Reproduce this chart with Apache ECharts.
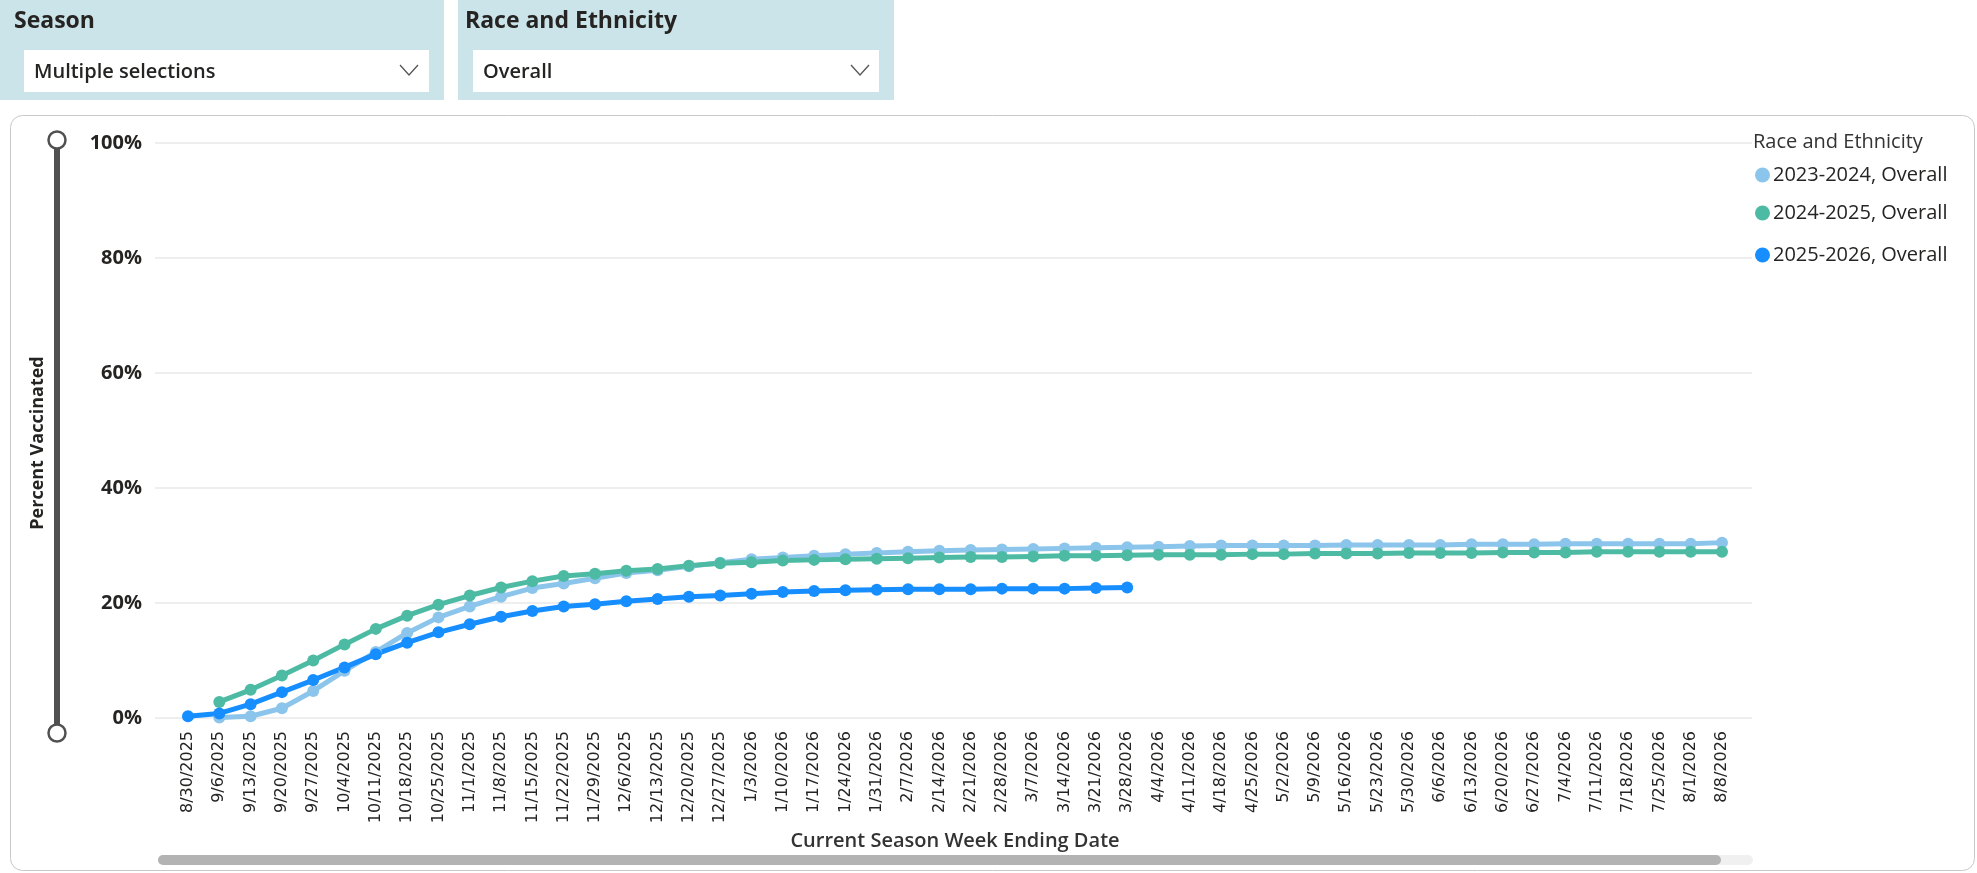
<!DOCTYPE html>
<html>
<head>
<meta charset="utf-8">
<script src="https://cdn.jsdelivr.net/npm/echarts@6/dist/echarts.min.js"></script>
<style>
html,body{margin:0;padding:0;background:#fff;}
#chart{width:1977px;height:873px;}
</style>
</head>
<body>
<div id="chart"></div>
<script>
const categories = ["8/30/2025","9/6/2025","9/13/2025","9/20/2025","9/27/2025","10/4/2025","10/11/2025","10/18/2025","10/25/2025","11/1/2025","11/8/2025","11/15/2025","11/22/2025","11/29/2025","12/6/2025","12/13/2025","12/20/2025","12/27/2025","1/3/2026","1/10/2026","1/17/2026","1/24/2026","1/31/2026","2/7/2026","2/14/2026","2/21/2026","2/28/2026","3/7/2026","3/14/2026","3/21/2026","3/28/2026","4/4/2026","4/11/2026","4/18/2026","4/25/2026","5/2/2026","5/9/2026","5/16/2026","5/23/2026","5/30/2026","6/6/2026","6/13/2026","6/20/2026","6/27/2026","7/4/2026","7/11/2026","7/18/2026","7/25/2026","8/1/2026","8/8/2026"];

const season2023 = [null,0.1,0.3,1.7,4.7,8.2,11.5,14.8,17.5,19.4,21.1,22.6,23.4,24.3,25.2,25.7,26.4,27.0,27.6,27.9,28.2,28.5,28.7,28.9,29.1,29.2,29.3,29.4,29.5,29.6,29.7,29.8,29.9,30.0,30.0,30.0,30.0,30.1,30.1,30.1,30.1,30.2,30.2,30.2,30.3,30.3,30.3,30.3,30.3,30.5];

const season2024 = [null,2.8,4.9,7.4,10.0,12.8,15.5,17.8,19.7,21.3,22.7,23.8,24.7,25.1,25.6,25.9,26.5,26.9,27.1,27.4,27.5,27.6,27.7,27.8,27.9,28.0,28.0,28.1,28.2,28.2,28.3,28.4,28.4,28.4,28.5,28.5,28.6,28.6,28.6,28.7,28.7,28.7,28.8,28.8,28.8,28.9,28.9,28.9,28.9,28.9];

const season2025 = [0.3,0.8,2.4,4.5,6.6,8.8,11.1,13.1,14.9,16.3,17.6,18.6,19.4,19.8,20.3,20.7,21.1,21.3,21.6,21.9,22.1,22.2,22.3,22.4,22.4,22.4,22.5,22.5,22.5,22.6,22.7,null,null,null,null,null,null,null,null,null,null,null,null,null,null,null,null,null,null,null];

const seriesNames = ["2023-2024, Overall","2024-2025, Overall","2025-2026, Overall"];
const seriesColors = ["#8CC5EB","#4DBAA3","#168EFF"];
const yTicks = [0,20,40,60,80,100];

const FONT = "'Open Sans', 'Noto Sans', sans-serif";
const chart = echarts.init(document.getElementById('chart'), null, {renderer:'canvas'});

function mkSeries(name, data, color){
  return {
    name: name, type: 'line', xAxisIndex: 1, yAxisIndex: 1,
    data: data, symbol: 'circle', symbolSize: 12, showSymbol: true,
    lineStyle: {width: 5, color: color}, itemStyle: {color: color},
    connectNulls: false
  };
}

const option = {
  animation: false,
  backgroundColor: '#ffffff',
  grid: [
    {left: 155, right: 225, top: 143, bottom: 155},
    {left: 188, right: 255, top: 143, bottom: 155}
  ],
  xAxis: [
    {gridIndex: 0, type: 'category', data: categories, show: false},
    {gridIndex: 1, type: 'category', data: categories, boundaryGap: false,
     axisLine: {show: false}, axisTick: {show: false},
     axisLabel: {interval: 0, rotate: 90, margin: 13, fontSize: 16, color: '#252423', fontFamily: "'DejaVu Sans', sans-serif"},
     name: 'Current Season Week Ending Date', nameLocation: 'middle', nameGap: 112,
     nameTextStyle: {fontSize: 20, fontWeight: 600, color: '#333333', fontFamily: FONT},
     splitLine: {show: false}}
  ],
  yAxis: [
    {gridIndex: 0, type: 'value', min: yTicks[0], max: yTicks[yTicks.length-1], interval: 20,
     axisLine: {show: false}, axisTick: {show: false},
     axisLabel: {formatter: '{value}%', fontSize: 20, fontWeight: 'bold', color: '#252423', margin: 13, fontFamily: FONT},
     splitLine: {show: true, lineStyle: {color: '#e8e8e8', width: 1.5}}},
    {gridIndex: 1, type: 'value', min: 0, max: 100, interval: 20, show: false, splitLine: {show: false}}
  ],
  legend: seriesNames.map((n, i) => ({
    data: [n], left: 1755, top: [164, 202, 244][i], orient: 'vertical', padding: 0,
    icon: 'circle', itemWidth: 15, itemHeight: 15, itemGap: 0,
    textStyle: {fontSize: 20, color: '#252423', fontFamily: FONT, lineHeight: 22, padding: [0, 0, 0, -2]}
  })),
  series: [
    mkSeries(seriesNames[0], season2023, seriesColors[0]),
    mkSeries(seriesNames[1], season2024, seriesColors[1]),
    mkSeries(seriesNames[2], season2025, seriesColors[2])
  ],
  graphic: [
    {type: 'rect', shape: {x: 0, y: 0, width: 444, height: 100}, style: {fill: '#cbe4e9'}, silent: true},
    {type: 'rect', shape: {x: 458, y: 0, width: 436, height: 100}, style: {fill: '#cbe4e9'}, silent: true},
    {type: 'rect', shape: {x: 24, y: 50, width: 405, height: 42}, style: {fill: '#ffffff'}, silent: true},
    {type: 'rect', shape: {x: 473, y: 50, width: 406, height: 42}, style: {fill: '#ffffff'}, silent: true},
    {type: 'text', x: 14, y: 21, style: {text: 'Season', fontSize: 23, fontWeight: 'bold', fill: '#252423', fontFamily: FONT, textVerticalAlign: 'middle'}},
    {type: 'text', x: 465, y: 21, style: {text: 'Race and Ethnicity', fontSize: 23, fontWeight: 'bold', fill: '#252423', fontFamily: FONT, textVerticalAlign: 'middle'}},
    {type: 'text', x: 34, y: 72, style: {text: 'Multiple selections', fontSize: 20, fontWeight: 600, fill: '#252423', fontFamily: FONT, textVerticalAlign: 'middle'}},
    {type: 'text', x: 483, y: 72, style: {text: 'Overall', fontSize: 20, fontWeight: 600, fill: '#252423', fontFamily: FONT, textVerticalAlign: 'middle'}},
    {type: 'polyline', shape: {points: [[400,65],[409,75],[418,65]]}, style: {stroke: '#555', lineWidth: 1.3, fill: null}},
    {type: 'polyline', shape: {points: [[851,65],[860,75],[869,65]]}, style: {stroke: '#555', lineWidth: 1.3, fill: null}},
    {type: 'rect', shape: {x: 10.5, y: 115.5, width: 1964, height: 755, r: 12}, style: {fill: null, stroke: '#c8c8c8', lineWidth: 1}, silent: true},
    {type: 'line', shape: {x1: 57, y1: 140, x2: 57, y2: 733}, style: {stroke: '#505050', lineWidth: 6}},
    {type: 'circle', shape: {cx: 57, cy: 140, r: 8.5}, style: {fill: '#ffffff', stroke: '#505050', lineWidth: 2.5}},
    {type: 'circle', shape: {cx: 57, cy: 733, r: 8.5}, style: {fill: '#ffffff', stroke: '#505050', lineWidth: 2.5}},
    {type: 'text', x: 38, y: 443, rotation: Math.PI/2, style: {text: 'Percent Vaccinated', fontSize: 18, fontWeight: 'bold', fill: '#252423', fontFamily: FONT, textAlign: 'center', textVerticalAlign: 'middle'}},
    {type: 'text', x: 1753, y: 142, style: {text: 'Race and Ethnicity', fontSize: 20, fill: '#333333', fontFamily: FONT, textVerticalAlign: 'middle'}},
    {type: 'rect', shape: {x: 158, y: 855, width: 1595, height: 10, r: 5}, style: {fill: '#f0f0f0'}},
    {type: 'rect', shape: {x: 158, y: 855, width: 1563, height: 10, r: 5}, style: {fill: '#b3b3b3'}}
  ]
};
chart.setOption(option);
</script>
</body>
</html>
